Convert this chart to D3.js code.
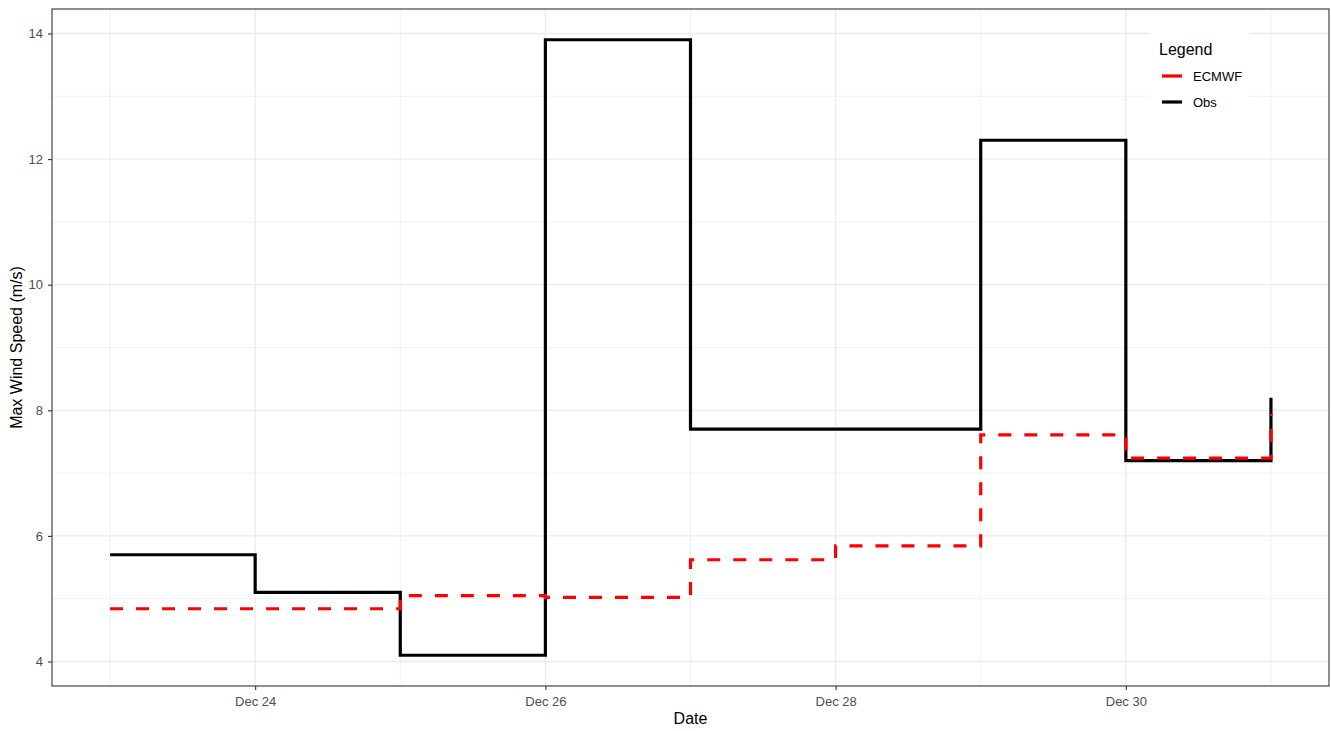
<!DOCTYPE html>
<html>
<head>
<meta charset="utf-8">
<script src="https://cdn.jsdelivr.net/npm/d3@7"></script>
<style>
  body { margin: 0; background: #fff; }
  svg { font-family: "Liberation Sans", Arial, sans-serif; }
</style>
</head>
<body>
<div id="chart"></div>
<script>
// daily max wind speed, step plot
const dates = ['2023-12-23', '2023-12-24', '2023-12-25', '2023-12-26', '2023-12-27',
  '2023-12-28', '2023-12-29', '2023-12-30', '2023-12-31'];
const obsValues = [5.7, 5.1, 4.1, 13.9, 7.7, 7.7, 12.3, 7.2, 8.2];
const ecmwfValues = [4.84, 4.84, 5.05, 5.02, 5.62, 5.84, 7.61, 7.24, 7.94];
const yTicks = [4, 6, 8, 10, 12, 14];
const yMinor = [5, 7, 9, 11, 13];
const xTickDates = ['2023-12-24', '2023-12-26', '2023-12-28', '2023-12-30'];
const xTickLabels = ['Dec 24', 'Dec 26', 'Dec 28', 'Dec 30'];
const xMinorDates = ['2023-12-23', '2023-12-25', '2023-12-27', '2023-12-29', '2023-12-31'];
const seriesNames = ['ECMWF', 'Obs'];

const width = 1331;
const height = 731;
const margin = {top: 9, right: 2, bottom: 45, left: 52};
const innerW = width - margin.left - margin.right;
const innerH = height - margin.top - margin.bottom;

const parse = d3.utcParse('%Y-%m-%d');
const days = dates.map(parse);
const majorX = xTickDates.map(parse);
const minorX = xMinorDates.map(parse);

// ggplot style 5% expansion on both axes
const xExt = d3.extent(days);
const xPad = (xExt[1] - xExt[0]) * 0.05;
const x = d3.scaleUtc()
  .domain([new Date(+xExt[0] - xPad), new Date(+xExt[1] + xPad)])
  .range([0, innerW]);

const yMin = d3.min(obsValues.concat(ecmwfValues));
const yMax = d3.max(obsValues.concat(ecmwfValues));
const yPad = (yMax - yMin) * 0.05;
const y = d3.scaleLinear()
  .domain([yMin - yPad, yMax + yPad])
  .range([innerH, 0]);

const svg = d3.select('#chart').append('svg')
  .attr('width', width)
  .attr('height', height);

const g = svg.append('g')
  .attr('transform', 'translate(' + margin.left + ',' + margin.top + ')');

// grid
g.append('g').selectAll('line')
  .data(yMinor)
  .enter().append('line')
  .attr('x1', 0).attr('x2', innerW)
  .attr('y1', d => y(d)).attr('y2', d => y(d))
  .attr('stroke', '#ebebeb').attr('stroke-width', 0.7);

g.append('g').selectAll('line')
  .data(minorX)
  .enter().append('line')
  .attr('y1', 0).attr('y2', innerH)
  .attr('x1', d => x(d)).attr('x2', d => x(d))
  .attr('stroke', '#ebebeb').attr('stroke-width', 0.7);

g.append('g').selectAll('line')
  .data(yTicks)
  .enter().append('line')
  .attr('x1', 0).attr('x2', innerW)
  .attr('y1', d => y(d)).attr('y2', d => y(d))
  .attr('stroke', '#ebebeb').attr('stroke-width', 1.3);

g.append('g').selectAll('line')
  .data(majorX)
  .enter().append('line')
  .attr('y1', 0).attr('y2', innerH)
  .attr('x1', d => x(d)).attr('x2', d => x(d))
  .attr('stroke', '#ebebeb').attr('stroke-width', 1.3);

// step lines
const line = d3.line()
  .x(d => x(d.date))
  .y(d => y(d.value))
  .curve(d3.curveStepAfter);

const obs = days.map((d, i) => ({date: d, value: obsValues[i]}));
const ecmwf = days.map((d, i) => ({date: d, value: ecmwfValues[i]}));

g.append('path')
  .datum(obs)
  .attr('d', line)
  .attr('fill', 'none')
  .attr('stroke', '#000')
  .attr('stroke-width', 3.2);

g.append('path')
  .datum(ecmwf)
  .attr('d', line)
  .attr('fill', 'none')
  .attr('stroke', '#ff0000')
  .attr('stroke-width', 3.2)
  .attr('stroke-dasharray', '13,13');

// panel border
g.append('rect')
  .attr('width', innerW)
  .attr('height', innerH)
  .attr('fill', 'none')
  .attr('stroke', '#333')
  .attr('stroke-width', 1.1);

// axes
const xAxis = g.append('g')
  .attr('transform', 'translate(0,' + innerH + ')')
  .call(d3.axisBottom(x).tickValues(majorX)
    .tickFormat((d, i) => xTickLabels[i]).tickSize(4).tickPadding(7));

const yAxis = g.append('g')
  .call(d3.axisLeft(y).tickValues(yTicks).tickSize(4).tickPadding(5));

[xAxis, yAxis].forEach(a => {
  a.select('.domain').remove();
  a.selectAll('line').attr('stroke', '#333').attr('stroke-width', 1.1);
  a.selectAll('text')
    .attr('fill', '#4d4d4d')
    .style('font-size', '13px')
    .style('font-family', '"Liberation Sans", Arial, sans-serif');
});

svg.append('text')
  .attr('x', margin.left + innerW / 2)
  .attr('y', 724)
  .attr('text-anchor', 'middle')
  .style('font-size', '16px')
  .text('Date');

svg.append('text')
  .attr('transform', 'translate(22,' + (margin.top + innerH / 2) + ') rotate(-90)')
  .attr('text-anchor', 'middle')
  .style('font-size', '16px')
  .text('Max Wind Speed (m/s)');

// legend
const legend = svg.append('g').attr('transform', 'translate(1150,28)');
legend.append('rect')
  .attr('width', 99).attr('height', 90)
  .attr('fill', '#fff');
legend.append('text')
  .attr('x', 9).attr('y', 27)
  .style('font-size', '16px')
  .text('Legend');

const keyColor = {ECMWF: '#ff0000', Obs: '#000'};
const item = legend.selectAll('.item')
  .data(seriesNames)
  .enter().append('g')
  .attr('class', 'item')
  .attr('transform', (d, i) => 'translate(0,' + (48 + i * 26) + ')');
item.append('line')
  .attr('x1', 12).attr('x2', 32)
  .attr('stroke', d => keyColor[d])
  .attr('stroke-width', 3.2);
item.append('text')
  .attr('x', 43).attr('y', 4.5)
  .style('font-size', '13px')
  .text(d => d);
</script>
</body>
</html>
